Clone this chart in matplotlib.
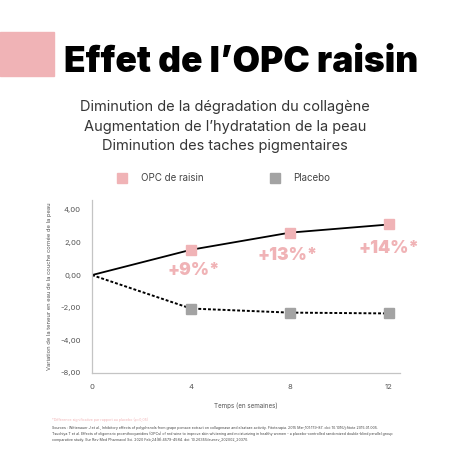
import matplotlib
matplotlib.use("Agg")
import matplotlib.pyplot as plt
from matplotlib.patches import Rectangle

plt.rcParams['font.family'] = ['Inter', 'DejaVu Sans']

weeks = [0, 4, 8, 12]
opc_values = [0.0, 1.55, 2.6, 3.1]
placebo_values = [0.0, -2.05, -2.3, -2.35]
gain_labels = ["+9%*", "+13%*", "+14%*"]
gain_pos = [(4.1, 0.3), (7.9, 1.2), (12.0, 1.65)]
y_ticks = [4, 2, 0, -2, -4, -6]
y_tick_labels = ["4,00", "2,00", "0,00", "-2,00", "-4,00", "-8,00"]
x_ticks = [0, 4, 8, 12]

PINK = "#f0b3b6"
GREY = "#a3a3a3"

fig = plt.figure(figsize=(4.5, 4.5), dpi=100)
fig.patch.set_facecolor("white")

# header
fig.patches.append(Rectangle((0, 1 - 76 / 450), 54 / 450, 44 / 450,
                             transform=fig.transFigure, color=PINK, zorder=0))
fig.text(0.535, 1 - 63 / 450, "Effet de l\u2019OPC raisin", ha="center", va="center",
         fontsize=25.5, fontweight="black", color="black")
subtitle = ["Diminution de la dégradation du collagène",
            "Augmentation de l\u2019hydratation de la peau",
            "Diminution des taches pigmentaires"]
for i, line in enumerate(subtitle):
    fig.text(0.5, 1 - (107 + 19.5 * i) / 450, line, ha="center", va="center",
             fontsize=10.5, color="#363636")

# legend
fig.patches.append(Rectangle((117 / 450, 1 - 183 / 450), 10 / 450, 10 / 450,
                             transform=fig.transFigure, color=PINK))
fig.text(141 / 450, 1 - 178 / 450, "OPC de raisin", va="center", fontsize=7, color="#444444")
fig.patches.append(Rectangle((270 / 450, 1 - 183 / 450), 10 / 450, 10 / 450,
                             transform=fig.transFigure, color=GREY))
fig.text(293 / 450, 1 - 178 / 450, "Placebo", va="center", fontsize=7, color="#444444")

ax = fig.add_axes([92 / 450, 1 - 373 / 450, 308 / 450, 173 / 450])
ax.plot(weeks, opc_values, color="black", lw=1.3, zorder=2)
ax.plot(weeks[1:], opc_values[1:], ls="none", marker="s", ms=7, color=PINK, zorder=3)
ax.plot(weeks, placebo_values, color="black", lw=1.4, ls=(0, (1.5, 1)), zorder=2)
ax.plot(weeks[1:], placebo_values[1:], ls="none", marker="s", ms=7, color=GREY, zorder=3)

for lab, (x, y) in zip(gain_labels, gain_pos):
    ax.text(x, y, lab, ha="center", va="center", fontsize=12.5, fontweight="black", color=PINK)

ax.set_xlim(0, 12.45)
ax.set_ylim(-6, 4.6)
ax.set_xticks(x_ticks)
ax.set_xticklabels([str(t) for t in x_ticks])
ax.set_yticks(y_ticks)
ax.set_yticklabels(y_tick_labels)
ax.tick_params(length=0, labelsize=5.5, labelcolor="#555555", pad=8)
for s in ["top", "right"]:
    ax.spines[s].set_visible(False)
for s in ["left", "bottom"]:
    ax.spines[s].set_color("#c4c4c4")
    ax.spines[s].set_linewidth(0.9)
ax.set_xlabel("Temps (en semaines)", fontsize=4.5, color="#555555", labelpad=9)
ax.set_ylabel("Variation de la teneur en eau de la couche cornée de la peau",
              fontsize=4.2, color="#555555", labelpad=6)

# footnotes
fig.text(52 / 450, 1 - 420 / 450, "*Différence significative par rapport au placebo (p<0,05)",
         fontsize=2.6, color=PINK, va="center")
sources = ("Sources : Wittenauer J et al., Inhibitory effects of polyphenols from grape pomace extract on collagenase and elastase activity. Fitoterapia. 2015 Mar;101:179-87. doi: 10.1016/j.fitote.2015.01.005.\n"
           "Tsuchiya T et al. Effects of oligomeric proanthocyanidins (OPCs) of red wine to improve skin whitening and moisturizing in healthy women - a placebo-controlled randomized double-blind parallel group\n"
           "comparative study. Eur Rev Med Pharmacol Sci. 2020 Feb;24(8):4579-4584. doi: 10.26355/eurrev_202002_20370.")
fig.text(52 / 450, 1 - 434 / 450, sources, fontsize=2.6, color="#444444", va="center",
         linespacing=1.4)

fig.savefig("out.png", dpi=100, facecolor="white")
